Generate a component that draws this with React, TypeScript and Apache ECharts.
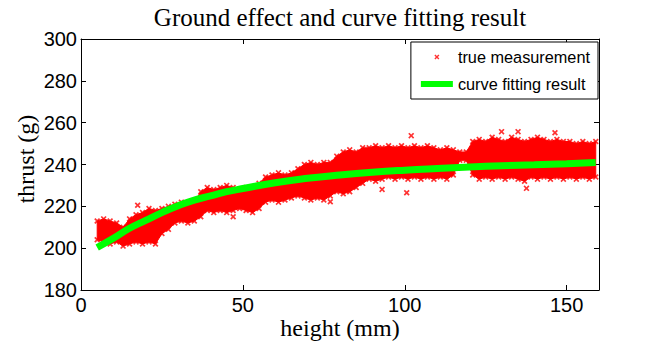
import React, { useEffect, useRef } from 'react';
import * as echarts from 'echarts';

// ---- data ----
const heights = [
  5, 7, 9, 11, 13, 15, 17, 19, 21, 23, 25, 27, 29, 31, 33, 35, 37, 39, 41, 43,
  45, 47, 49, 51, 53, 55, 57, 59, 61, 63, 65, 67, 69, 71, 73, 75, 77, 79, 81, 83,
  85, 87, 89, 91, 93, 95, 97, 99, 101, 103, 105, 107, 109, 111, 113, 115, 117, 119, 121, 123,
  125, 127, 129, 131, 133, 135, 137, 139, 141, 143, 145, 147, 149, 151, 153, 155, 157, 159,
];
const thrustLow = [
  204, 203, 202, 203, 201, 202, 203, 202, 203, 202, 207, 209, 212, 213, 212, 213, 215, 218, 217, 218,
  217, 218, 219, 218, 217, 219, 222, 223, 222, 223, 224, 225, 224, 223, 224, 223, 225, 227, 226, 227,
  229, 231, 233, 232, 233, 234, 233, 234, 233, 234, 233, 234, 233, 234, 233, 235, 242, 242, 235, 233,
  234, 233, 234, 233, 234, 233, 232, 234, 233, 234, 233, 234, 233, 234, 233, 234, 233, 234,
];
const thrustHigh = [
  213, 214, 213, 212, 210, 214, 216, 217, 219, 218, 219, 220, 221, 222, 221, 222, 227, 229, 228, 229,
  230, 229, 228, 229, 228, 231, 234, 235, 236, 235, 236, 238, 240, 241, 240, 241, 241, 244, 246, 247,
  246, 248, 248, 249, 248, 249, 248, 249, 248, 249, 248, 249, 248, 247, 248, 247, 246, 246, 251, 252,
  251, 253, 252, 251, 253, 252, 251, 252, 253, 252, 251, 252, 251, 251, 250, 251, 250, 251,
];
const outlierHeights = [17.5, 47, 77, 93, 100.6, 102, 129.9, 135, 137.6, 146.4];
const outlierThrust = [220.5, 215, 222.2, 228.1, 226.5, 253.8, 255.7, 255.7, 228.6, 255.2];

const fitHeights = [5, 10, 15, 20, 25, 30, 35, 40, 45, 50, 60, 70, 80, 90, 100, 110, 120, 130, 140, 150, 159];
const fitThrust = [200.3, 204.7, 209.5, 213.3, 217, 220.3, 223, 225, 227, 228.5, 231.3, 233.4, 235, 236.3, 237.3, 238.1, 238.8, 239.4, 239.9, 240.4, 240.9];

const xTicks = [0, 50, 100, 150];
const yTicks = [180, 200, 220, 240, 260, 280, 300];
const xMax = 160;

const titleText = 'Ground effect and curve fitting result';
const xName = 'height (mm)';
const yName = 'thrust (g)';
const seriesNames = ['true measurement', 'curve fitting result'];

const xMarker = 'path://M0,2L2,0L5,3L8,0L10,2L7,5L10,8L8,10L5,7L2,10L0,8L3,5Z';

export default function App() {
  const ref = useRef<HTMLDivElement>(null);

  useEffect(() => {
    if (!ref.current) return;
    const chart = echarts.init(ref.current, undefined, { renderer: 'svg' });

    const measured: number[][] = [];
    heights.forEach((h, i) => measured.push([h, thrustLow[i]]));
    heights.forEach((h, i) => measured.push([h, thrustHigh[i]]));
    outlierHeights.forEach((h, i) => measured.push([h, outlierThrust[i]]));

    const fit = fitHeights.map((h, i) => [h, fitThrust[i]]);

    const sansFont = '"Liberation Sans", Arial, Helvetica, sans-serif';
    const serifFont = '"Liberation Serif", "Times New Roman", serif';

    const axisCommon = {
      type: 'value' as const,
      axisLine: { show: true, onZero: false, lineStyle: { color: '#000', width: 1 } },
      axisTick: { show: true, inside: true, length: 5, lineStyle: { color: '#000', width: 1 } },
      splitLine: { show: false },
    };

    const xInterval = xTicks[1] - xTicks[0];
    const yInterval = yTicks[1] - yTicks[0];

    chart.setOption({
      animation: false,
      backgroundColor: '#fff',
      grid: { left: 81, top: 39, right: 53, bottom: 53, containLabel: false },
      legend: {
        orient: 'vertical',
        right: 54,
        top: 42,
        padding: [7, 8, 7, 7],
        itemGap: 11,
        itemWidth: 32,
        itemHeight: 5,
        backgroundColor: '#fff',
        borderColor: '#000',
        borderWidth: 1,
        borderRadius: 0,
        selectedMode: false,
        textStyle: { fontSize: 16.3, color: '#000', fontFamily: sansFont },
        data: [
          { name: seriesNames[0] },
          { name: seriesNames[1], lineStyle: { width: 6, color: '#00ff00' } },
        ],
        z: 10,
      },
      xAxis: [
        {
          ...axisCommon,
          position: 'bottom',
          min: xTicks[0],
          max: xMax,
          interval: xInterval,
          axisLabel: { color: '#000', fontSize: 20, fontFamily: sansFont, margin: 5, showMaxLabel: false },
        },
        {
          ...axisCommon,
          position: 'top',
          min: xTicks[0],
          max: xMax,
          interval: xInterval,
          axisLabel: { show: false },
        },
      ],
      yAxis: [
        {
          ...axisCommon,
          position: 'left',
          min: yTicks[0],
          max: yTicks[yTicks.length - 1],
          interval: yInterval,
          axisLabel: { color: '#000', fontSize: 20, fontFamily: sansFont, margin: 4 },
        },
        {
          ...axisCommon,
          position: 'right',
          min: yTicks[0],
          max: yTicks[yTicks.length - 1],
          interval: yInterval,
          axisLabel: { show: false },
        },
      ],
      graphic: [
        {
          type: 'text',
          x: 340,
          y: 17,
          style: { text: titleText, font: `25px ${serifFont}`, fill: '#000', align: 'center', verticalAlign: 'middle' },
        },
        {
          type: 'text',
          x: 340,
          y: 328,
          style: { text: xName, font: `24px ${serifFont}`, fill: '#000', align: 'center', verticalAlign: 'middle' },
        },
        {
          type: 'text',
          x: 26,
          y: 159,
          rotation: Math.PI / 2,
          style: { text: yName, font: `24px ${serifFont}`, fill: '#000', align: 'center', verticalAlign: 'middle' },
        },
      ],
      series: [
        {
          type: 'custom',
          name: 'band',
          silent: true,
          z: 2,
          xAxisIndex: 0,
          yAxisIndex: 0,
          data: [[heights[0], thrustLow[0]]],
          encode: { x: 0, y: 1 },
          renderItem: (_params: any, api: any) => {
            const pts: number[][] = [];
            heights.forEach((h, i) => pts.push(api.coord([h, thrustHigh[i]])));
            for (let i = heights.length - 1; i >= 0; i--) pts.push(api.coord([heights[i], thrustLow[i]]));
            return {
              type: 'polygon',
              shape: { points: pts },
              style: { fill: '#ff0000', stroke: '#ff0000', lineWidth: 1 },
            };
          },
        },
        {
          type: 'scatter',
          name: seriesNames[0],
          xAxisIndex: 0,
          yAxisIndex: 0,
          z: 3,
          symbol: xMarker,
          symbolSize: 6,
          itemStyle: { color: '#ff0000' },
          data: measured,
        },
        {
          type: 'line',
          name: seriesNames[1],
          xAxisIndex: 0,
          yAxisIndex: 0,
          z: 4,
          smooth: true,
          symbol: 'none',
          lineStyle: { color: '#00ff00', width: 7, cap: 'butt' },
          itemStyle: { color: '#00ff00' },
          data: fit,
        },
      ],
    });

    return () => chart.dispose();
  }, []);

  return <div ref={ref} style={{ position: 'fixed', left: 0, top: 0, width: 652, height: 343 }} />;
}
